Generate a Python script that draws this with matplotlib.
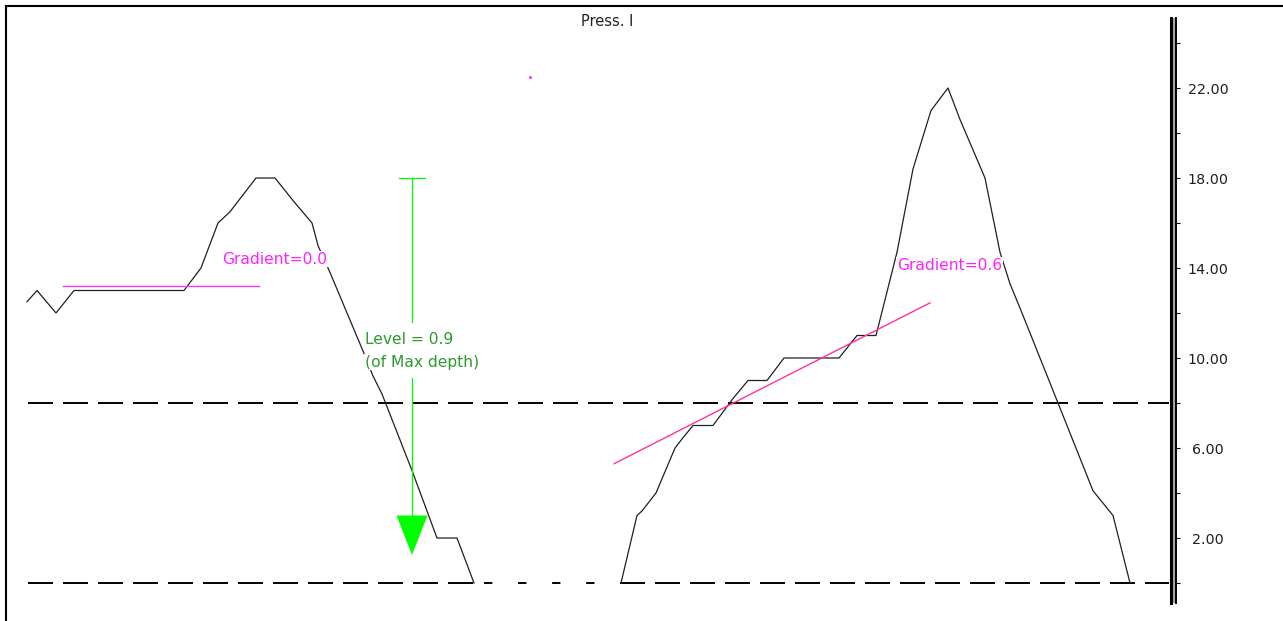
import matplotlib
matplotlib.use("Agg")
import matplotlib.pyplot as plt
import matplotlib.ticker as ticker

plt.rcParams["font.family"] = ["DejaVu Sans"]
plt.rcParams["lines.scale_dashes"] = False

# --- data (x = sample position along trace, y = pressure) ---
t_left = [27, 37, 56, 74, 184, 201, 218, 230, 256, 275, 293, 312, 318,
          330, 365, 373, 382, 412, 437, 457, 474]
p_left = [12.5, 13.0, 12.0, 13.0, 13.0, 14.0, 16.0, 16.5, 18.0, 18.0, 17.0,
          16.0, 15.0, 13.8, 10.1, 9.2, 8.4, 5.0, 2.0, 2.0, 0.0]

t_right = [621, 637, 642, 656, 675, 682, 693, 713, 733, 748, 767, 784, 839,
           857, 876, 897, 913, 931, 948, 960, 985, 1000, 1010, 1022, 1058,
           1093, 1113, 1130]
p_right = [0.0, 3.0, 3.2, 4.0, 6.0, 6.4, 7.0, 7.0, 8.2, 9.0, 9.0, 10.0, 10.0,
           11.0, 11.0, 14.7, 18.4, 21.0, 22.0, 20.6, 18.0, 14.7, 13.3, 12.0,
           8.0, 4.1, 3.0, 0.0]

grad0_t = [63, 259]
grad0_p = [13.2, 13.2]
grad6_t = [614, 930]
grad6_p = [5.3, 12.45]

threshold = 8.0
baseline = 0.0
line_t = [28, 1169]
gap_t = [476, 620]

level_t = 412
level_top = 18.0      # max of left trace
level_tip = 1.25
level_text_gap = [11.6, 9.1]

stray_t, stray_p = 530, 22.5

tick_major = [2, 6, 10, 14, 18, 22]
tick_minor = [0, 4, 8, 12, 16, 20, 24]

W, H = 1283, 621
fig = plt.figure(figsize=(W / 100, H / 100), dpi=100)
fig.patch.set_facecolor("white")

# main plotting area, one data unit in x ~ one pixel
ax = fig.add_axes([6 / W, 0, (W - 6) / W, (H - 6) / H])
ax.set_xlim(6, W)
ax.set_ylim((583 - 621) / 22.5, (583 - 6) / 22.5)
ax.set_xticks([])
ax.set_yticks([])
for side in ["right", "bottom"]:
    ax.spines[side].set_visible(False)
for side in ["top", "left"]:
    ax.spines[side].set_linewidth(1.5)
    ax.spines[side].set_color("black")

# dashed reference lines
dash_long = (0, (18, 7.2))
ax.plot(line_t, [threshold, threshold], color="black", lw=1.4, ls=dash_long)
ax.plot([line_t[0], gap_t[0]], [baseline, baseline], color="black", lw=1.4, ls=dash_long)
ax.plot([gap_t[1], line_t[1]], [baseline, baseline], color="black", lw=1.4, ls=dash_long)
ax.plot(gap_t, [baseline, baseline], color="black", lw=1.4, ls=(18.7, (6, 18.5)))

# traces
ax.plot(t_left, p_left, color="#202020", lw=0.9)
ax.plot(t_right, p_right, color="#202020", lw=0.9)

# gradient fits
ax.plot(grad0_t, grad0_p, color="#ff33ff", lw=1.0)
ax.plot(grad6_t, grad6_p, color="#ff3399", lw=1.0)
txt = dict(fontsize=11.2, va="center", ha="left",
           bbox=dict(facecolor="white", edgecolor="none", pad=0.5))
ax.text(222, 14.4, "Gradient=0.0", color="#ff22ff", **txt)
ax.text(897, 14.13, "Gradient=0.6", color="#ff22ff", **txt)

# level arrow
green = "#00ff00"
head_len = 1.75
head_half = 15.5
ax.plot([level_t - 13, level_t + 13], [level_top, level_top], color=green, lw=0.9)
ax.plot([level_t, level_t], [level_top, level_text_gap[0]], color=green, lw=0.9)
ax.plot([level_t, level_t], [level_text_gap[1], level_tip + head_len], color=green, lw=0.9)
ax.fill([level_t - head_half, level_t + head_half, level_t],
        [level_tip + head_len, level_tip + head_len, level_tip], color=green, lw=0)
ax.text(365, 10.8, "Level = 0.9", color="#2e9a2e", **txt)
ax.text(365, 9.82, "(of Max depth)", color="#2e9a2e", **txt)

ax.plot([stray_t], [stray_p], marker="s", ms=1.0, color="#ff33ff", lw=0)

fig.text(607 / W, 1 - 22 / H, "Press. I", ha="center", va="center", fontsize=10.5,
         color="#202020")

# pressure scale on the right
sx = fig.add_axes([1170.5 / W, (H - 603) / H, 5.5 / W, (603 - 18) / H])
sx.set_facecolor("#a8a8a8")
sx.set_ylim((583 - 603) / 22.5, (583 - 18) / 22.5)
sx.set_xticks([])
sx.spines["top"].set_visible(False)
sx.spines["bottom"].set_visible(False)
sx.spines["left"].set_linewidth(2.2)
sx.spines["right"].set_linewidth(1.4)
sx.yaxis.set_major_locator(ticker.FixedLocator(tick_major))
sx.yaxis.set_minor_locator(ticker.FixedLocator(tick_minor))
sx.yaxis.set_major_formatter(ticker.FormatStrFormatter("%.2f"))
sx.yaxis.tick_right()
sx.tick_params(axis="y", which="both", length=3, width=0.8, color="black",
               labelsize=10.3, labelcolor="#202020", pad=20)
for lbl in sx.yaxis.get_majorticklabels():
    lbl.set_ha("center")

fig.savefig("out.png", dpi=100)
